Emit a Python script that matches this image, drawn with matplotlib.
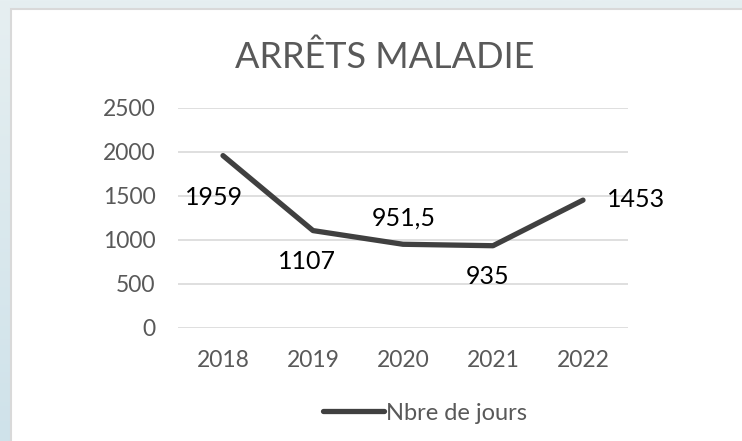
import numpy as np
import matplotlib
matplotlib.use("Agg")
import matplotlib.pyplot as plt
from matplotlib.patches import Rectangle

years = ["2018", "2019", "2020", "2021", "2022"]
jours = [1959, 1107, 951.5, 935, 1453]
labels = ["1959", "1107", "951,5", "935", "1453"]
y_ticks = [0, 500, 1000, 1500, 2000, 2500]

plt.rcParams['font.family'] = ['Lato', 'DejaVu Sans']

fig = plt.figure(figsize=(7.42, 4.41), dpi=100)

# light blue gradient behind the chart card
bg = fig.add_axes([0, 0, 1, 1], zorder=-10)
grad = np.linspace(0, 1, 256).reshape(-1, 1)
bg.imshow(grad, aspect='auto', cmap=matplotlib.colors.LinearSegmentedColormap.from_list(
    "bg", ["#e6eff1", "#cfe2ea"]), extent=[0, 1, 0, 1], origin='upper')
bg.set_xlim(0, 1)
bg.set_ylim(0, 1)
bg.axis('off')
bg.add_patch(Rectangle((11 / 742, -0.1), 1.2, 1.1 - 9 / 441, facecolor='white',
                       edgecolor='#d9d9d9', linewidth=1.5))

ax = fig.add_axes([178 / 742, 113 / 441, 450 / 742, 220 / 441])
ax.set_facecolor('none')
x = np.arange(len(years))
line, = ax.plot(x, jours, color='#404040', linewidth=3.8,
                solid_capstyle='round', solid_joinstyle='round', label="Nbre de jours")

ax.set_xlim(-0.5, len(years) - 0.5)
ax.set_ylim(0, 2500)
ax.set_yticks(y_ticks)
ax.set_xticks(x)
ax.set_xticklabels(years)
ax.grid(axis='y', color='#d9d9d9', linewidth=1.2)
ax.set_axisbelow(True)
for s in ax.spines.values():
    s.set_visible(False)
ax.tick_params(length=0, labelsize=16.5, colors='#595959')
ax.tick_params(axis='y', pad=16)
ax.tick_params(axis='x', pad=16)

# label offsets in pixels (dx, dy)
offsets = [(-9, -42), (-6, -31), (1, 26), (-5, -31), (53, 1)]
for xi, yi, lab, (dx, dy) in zip(x, jours, labels, offsets):
    ax.annotate(lab, (xi, yi), xytext=(dx * 0.72, dy * 0.72), textcoords='offset points',
                ha='center', va='center', fontsize=18, color='#000000')

fig.text(385 / 742, 1 - 57 / 441, "ARRÊTS MALADIE", ha='center', va='center',
         fontsize=26, color='#595959')

fig.legend(handles=[line], loc='center', bbox_to_anchor=(425 / 742, 1 - 413 / 441),
           frameon=False, fontsize=17, labelcolor='#595959', handlelength=2.6,
           handletextpad=0.1)

fig.savefig("out.png", dpi=100)
